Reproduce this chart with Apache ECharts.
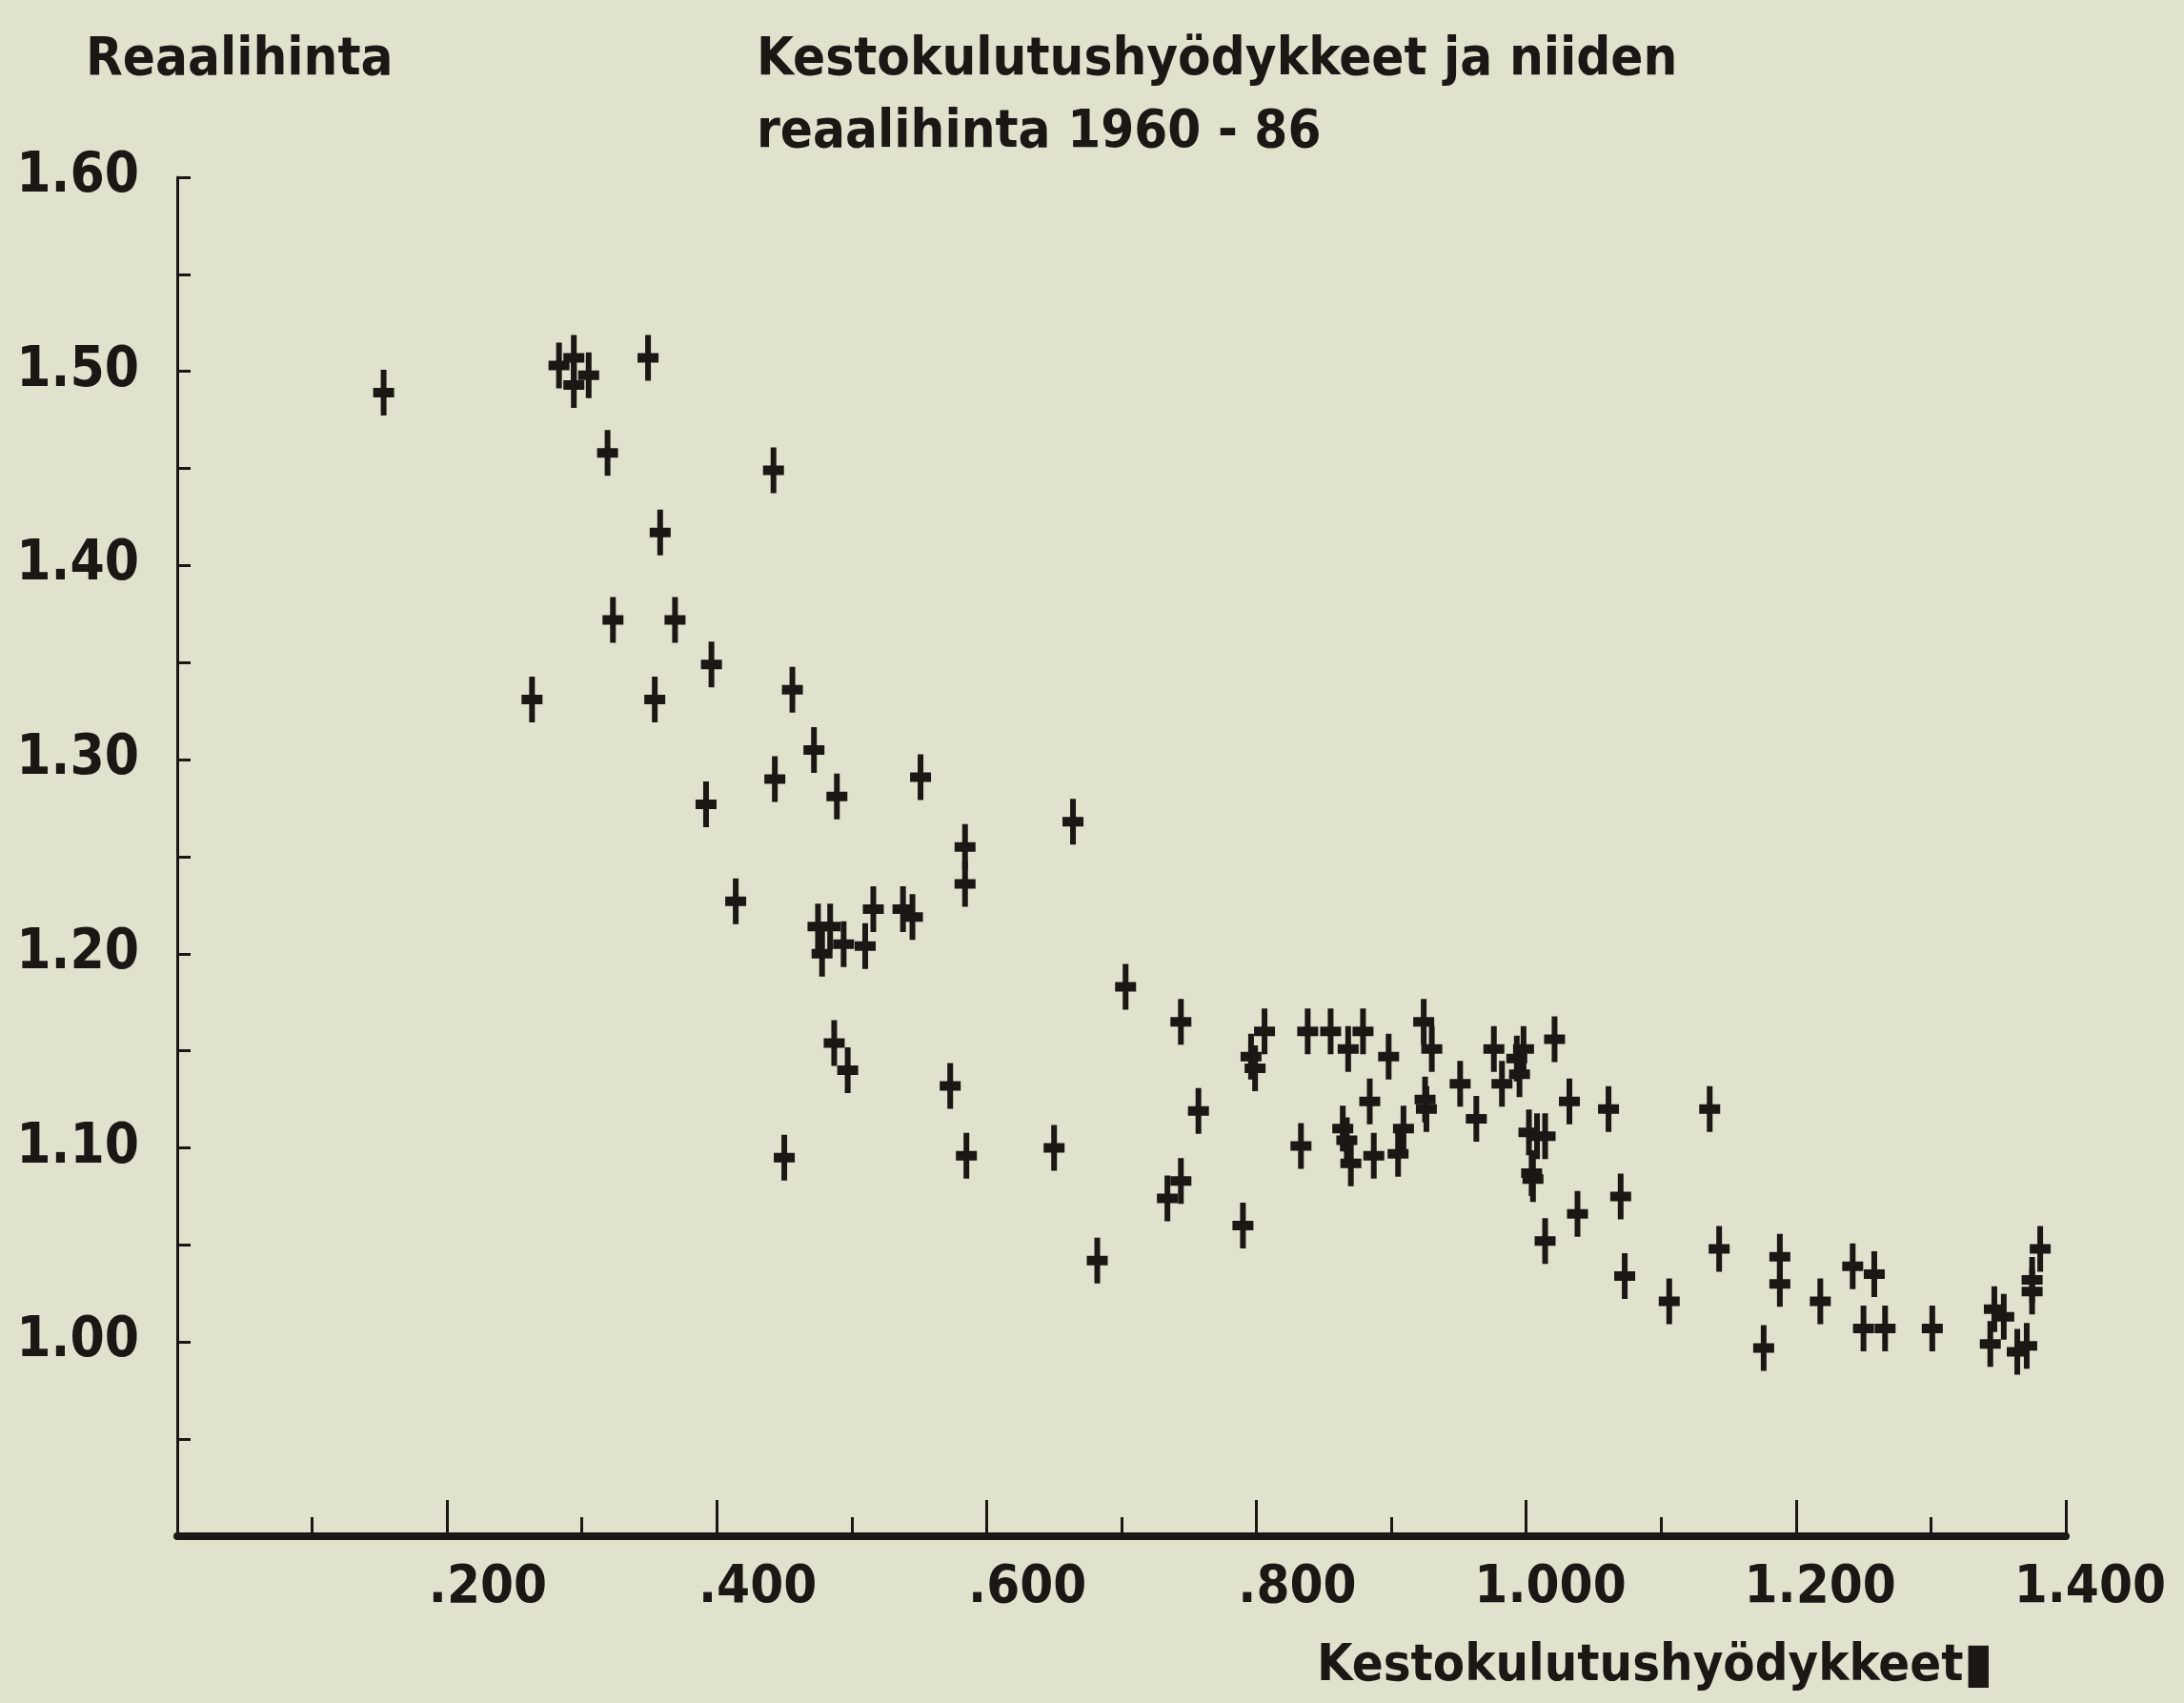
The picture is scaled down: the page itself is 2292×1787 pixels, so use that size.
<!DOCTYPE html>
<html>
	<head>
		<meta charset="utf-8" />
		<title>Kestokulutushyödykkeet ja niiden reaalihinta 1960 - 86</title>
		<style type="text/css">
			html, body{
				margin: 0;
				padding: 0;
				background-color: #e1e2cd;
			}
			#chart{
				width: 2292px;
				height: 1787px;
			}
		</style>
		<script src="https://cdn.jsdelivr.net/npm/echarts@6/dist/echarts.min.js" type="text/javascript" charset="utf-8"></script>
	</head>
	<body>
		<div id="chart"></div>
		<script type="text/javascript">
			// kestokulutushyödykkeet (x) ja reaalihinta (y), luettu kuvasta
			var xValues = [
				0.153, 0.283, 0.294, 0.294, 0.305, 0.349, 0.319, 0.358, 0.323, 0.369,
				0.396, 0.263, 0.354, 0.442, 0.456, 0.472, 0.443, 0.489, 0.551, 0.392,
				0.584, 0.584, 0.414, 0.664, 0.475, 0.484, 0.478, 0.494, 0.510, 0.516,
				0.538, 0.545, 0.487, 0.497, 0.573, 0.450, 0.585, 0.650, 0.703, 0.744,
				0.806, 0.838, 0.855, 0.796, 0.799, 0.757, 0.833, 0.868, 0.879, 0.898,
				0.924, 0.930, 0.976, 0.951, 0.982, 0.884, 0.925, 0.926, 0.963, 0.864,
				0.867, 0.870, 0.887, 0.909, 0.905, 0.744, 0.734, 0.790, 0.682, 0.998,
				0.993, 0.995, 1.021, 1.002, 1.008, 1.014, 1.004, 1.005, 1.032, 1.061,
				1.136, 1.070, 1.038, 1.014, 1.073, 1.106, 1.143, 1.188, 1.188, 1.176,
				1.218, 1.242, 1.258, 1.250, 1.266, 1.301, 1.347, 1.354, 1.344, 1.364,
				1.371, 1.375, 1.375, 1.381
			];
			var yValues = [
				1.489, 1.503, 1.507, 1.493, 1.498, 1.507, 1.458, 1.417, 1.372, 1.372,
				1.349, 1.331, 1.331, 1.449, 1.336, 1.305, 1.290, 1.281, 1.291, 1.277,
				1.255, 1.236, 1.227, 1.268, 1.214, 1.214, 1.200, 1.205, 1.204, 1.223,
				1.223, 1.219, 1.154, 1.140, 1.132, 1.095, 1.096, 1.100, 1.183, 1.165,
				1.160, 1.160, 1.160, 1.147, 1.141, 1.119, 1.101, 1.151, 1.160, 1.147,
				1.165, 1.151, 1.151, 1.133, 1.133, 1.124, 1.125, 1.120, 1.115, 1.110,
				1.104, 1.092, 1.096, 1.110, 1.097, 1.083, 1.074, 1.060, 1.042, 1.151,
				1.146, 1.138, 1.156, 1.108, 1.106, 1.106, 1.087, 1.084, 1.124, 1.120,
				1.120, 1.075, 1.066, 1.052, 1.034, 1.021, 1.048, 1.044, 1.030, 0.997,
				1.021, 1.039, 1.035, 1.007, 1.007, 1.007, 1.017, 1.013, 0.999, 0.995,
				0.998, 1.032, 1.026, 1.048
			];
			var titleLines = ['Kestokulutushyödykkeet ja niiden', 'reaalihinta 1960 - 86'];
			var yName = 'Reaalihinta';
			var xName = 'Kestokulutushyödykkeet';

			var ink = '#1b1715';
			var font = "'DejaVu Sans Condensed', 'Liberation Sans Narrow', 'DejaVu Sans', sans-serif";
			// ristikko-merkki: pysty viiva pidempi kuin vaaka
			var crossPath = 'path://M8,0 H14 V19 H22 V29 H14 V48 H8 V29 H0 V19 H8 Z';

			var points = xValues.map(function(x, i){
				return [x, yValues[i]];
			});

			var textBase = {color: ink, fontFamily: font, fontWeight: 'bold', fontSize: 56, lineHeight: 76};

			var myChart = echarts.init(document.getElementById('chart'));
			var option = {
				backgroundColor: '#e1e2cd',
				animation: false,
				title: [
					{
						text: titleLines.join('\n'),
						left: 789,
						top: 20,
						textStyle: textBase
					},
					{
						text: yName,
						left: 85,
						top: 20,
						textStyle: textBase
					},
					{
						// kursori tekstin perässä
						text: xName + '{c|▮}',
						left: 1377,
						top: 1706,
						textStyle: {
							color: ink, fontFamily: font, fontWeight: 'bold', fontSize: 54, lineHeight: 76,
							rich: {c: {color: ink, fontSize: 58, fontFamily: "'DejaVu Sans', sans-serif", lineHeight: 76}}
						}
					}
				],
				grid: {
					left: 186,
					right: 124,
					top: 186,
					bottom: 175
				},
				xAxis: {
					type: 'value',
					min: 0,
					max: 1.4,
					interval: 0.2,
					splitLine: {show: false},
					axisLine: {onZero: false, lineStyle: {color: ink, width: 8}},
					axisTick: {inside: true, length: 38, lineStyle: {color: ink, width: 3}},
					minorTick: {show: true, splitNumber: 2, length: 20, lineStyle: {color: ink, width: 3}},
					axisLabel: {
						align: 'left',
						margin: 26,
						color: ink,
						fontFamily: font,
						fontWeight: 'bold',
						fontSize: 56,
						formatter: function(v){
							var k = Math.round(v * 1000);
							if (k === 0) return '';
							var s = k < 1000 ? '.' + k : (k / 1000).toFixed(3);
							return '{a|' + s + '}';
						},
						rich: {
							a: {width: 105, align: 'right', color: ink, fontFamily: font, fontWeight: 'bold', fontSize: 56}
						}
					}
				},
				yAxis: {
					type: 'value',
					min: 0.9,
					max: 1.6,
					interval: 0.05,
					splitLine: {show: false},
					axisLine: {lineStyle: {color: ink, width: 3}},
					axisTick: {inside: true, length: 14, lineStyle: {color: ink, width: 3}},
					axisLabel: {
						margin: 40,
						color: ink,
						fontFamily: font,
						fontWeight: 'bold',
						fontSize: 58,
						formatter: function(v){
							var k = Math.round(v * 100);
							if (k % 10 !== 0 || k < 100) return '';
							return (k / 100).toFixed(2);
						}
					}
				},
				series: [
					{
						type: 'scatter',
						data: points,
						symbol: crossPath,
						symbolSize: [22, 48],
						itemStyle: {color: ink, opacity: 1}
					}
				]
			};
			myChart.setOption(option);
		</script>
	</body>
</html>
